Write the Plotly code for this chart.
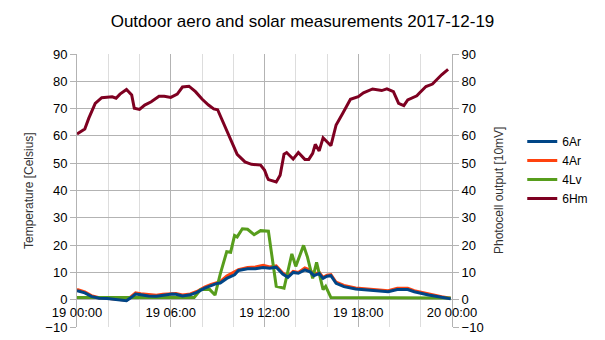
import plotly.graph_objects as go

DAY = "2017-12-19 "

# 6Hm (left axis, temperature)
hm_time = ["00:00","00:30","00:45","01:10","01:35","02:15","02:30","02:45","03:10","03:30",
           "03:40","04:00","04:20","04:45","05:15","05:35","06:00","06:25","06:45","07:10",
           "07:35","08:00","08:25","08:45","09:00","09:30","09:55","10:15","10:45","11:10",
           "11:45","12:00","12:10","12:15","12:45","13:00","13:15","13:25","13:50","14:10",
           "14:35","14:50","15:05","15:15","15:30","15:45","16:15","16:35","17:00","17:30",
           "18:00","18:20","18:55","19:30","19:50","20:15","20:35","20:55","21:10","21:45",
           "21:55","22:20","22:45","23:20","23:45"]
hm_val = [60.7,62.5,66.4,71.9,74.0,74.3,73.8,75.3,77.0,75.0,
          70.1,69.7,71.3,72.5,74.5,74.5,74.1,75.3,77.9,78.2,
          76.2,73.5,71.3,69.9,69.6,63.3,57.8,53.2,50.5,49.6,
          49.3,47.5,45.0,44.0,43.1,45.6,53.3,53.9,51.5,53.9,
          51.4,51.4,53.6,56.9,54.5,59.3,56.4,64.0,68.2,73.4,
          74.4,75.8,77.2,76.6,77.2,76.2,71.9,71.1,73.2,74.7,
          75.7,78.1,79.0,82.4,84.4]

# 6Ar and 4Ar share the same sample times
ar_time = ["00:00","00:30","00:55","01:25","01:55","02:20","02:45","03:10","03:25","03:45",
           "04:05","04:35","05:05","05:30","06:05","06:20","06:45","07:15","07:40","08:10",
           "08:35","08:55","09:10","09:35","10:05","10:20","10:55","11:25","11:55","12:20",
           "12:45","13:10","13:30","13:50","14:10","14:35","14:55","15:10","15:30","15:45",
           "16:00","16:15","16:35","17:05","17:50","18:40","19:30","19:55","20:30","21:10",
           "21:35","22:30","23:20","23:55"]
ar6_val = [3.3,2.5,1.2,0.5,0.4,0.1,0.0,-0.4,0.6,2.1,
           1.8,1.4,1.3,1.7,2.1,2.0,1.4,1.8,2.7,4.2,
           5.1,5.9,6.1,7.8,9.1,10.7,11.3,11.3,11.8,11.5,
           11.9,9.4,8.2,10.0,9.7,10.9,10.2,8.8,9.6,7.8,
           8.6,8.8,6.0,4.8,3.9,3.4,2.9,2.9,3.7,3.7,
           2.9,1.7,0.9,0.3]
ar4_val = [3.8,2.9,1.5,0.7,0.5,0.2,0.1,-0.2,0.9,2.5,
           2.2,1.8,1.6,2.0,2.4,2.3,1.7,2.1,3.0,4.6,
           5.6,6.3,6.6,8.7,10.2,11.0,11.8,12.0,12.6,12.0,
           12.4,9.8,8.6,10.4,10.0,11.6,10.9,9.3,10.0,8.2,
           9.0,9.2,6.4,5.2,4.3,3.8,3.3,3.3,4.2,4.2,
           3.3,2.0,1.1,0.5]

# 4Lv
lv_time = ["00:00","07:30","07:55","08:30","08:50","09:10","09:35","09:50","10:05","10:15",
           "10:35","10:55","11:20","11:45","12:15","12:45","13:15","13:45","14:00","14:30",
           "14:45","15:05","15:20","15:45","15:55","16:15","23:55"]
lv_val = [0.8,0.8,3.7,3.7,1.7,9.4,17.6,17.4,23.5,23.0,
          26.0,25.8,23.8,25.3,25.1,4.9,4.2,16.8,12.2,19.9,
          15.6,7.8,13.7,3.7,4.9,0.8,0.6]

x_ticks = ["2017-12-19 00:00","2017-12-19 06:00","2017-12-19 12:00","2017-12-19 18:00","2017-12-20 00:00"]
x_ticktext = ["19 00:00","19 06:00","19 12:00","19 18:00","20 00:00"]
y_ticks = list(range(-10, 91, 10))

C_6AR, C_4AR, C_4LV, C_6HM = "#004586", "#ff420e", "#579d1c", "#7e0021"
FONT = "Liberation Sans, Arial, sans-serif"

def t(lst):
    return [DAY + s for s in lst]

fig = go.Figure()
fig.add_trace(go.Scatter(x=t(ar_time), y=ar4_val, name="4Ar", mode="lines",
                         line=dict(color=C_4AR, width=3), legendrank=2))
fig.add_trace(go.Scatter(x=t(lv_time), y=lv_val, name="4Lv", mode="lines",
                         line=dict(color=C_4LV, width=3), legendrank=3))
fig.add_trace(go.Scatter(x=t(ar_time), y=ar6_val, name="6Ar", mode="lines",
                         line=dict(color=C_6AR, width=3), legendrank=1))
fig.add_trace(go.Scatter(x=t(hm_time), y=hm_val, name="6Hm", mode="lines",
                         line=dict(color=C_6HM, width=3), legendrank=4))
# dummy trace to show the right axis
fig.add_trace(go.Scatter(x=[x_ticks[0]], y=[None], yaxis="y2", showlegend=False,
                         hoverinfo="skip"))

fig.update_layout(
    width=605, height=340, autosize=False,
    margin=dict(l=77, r=149, t=54, b=13, pad=0),
    paper_bgcolor="white", plot_bgcolor="white",
    font=dict(family=FONT, size=13, color="#000000"),
    title=dict(text="Outdoor aero and solar measurements 2017-12-19",
               x=0.5, xref="container", xanchor="center",
               y=1 - 21/340, yref="container", yanchor="middle",
               font=dict(family=FONT, size=17, color="#000000")),
    xaxis=dict(type="date", range=[x_ticks[0], x_ticks[-1]],
               tickvals=x_ticks, ticktext=x_ticktext,
               showgrid=True, gridcolor="#b3b3b3", gridwidth=1,
               minor=dict(dtick=2*3600*1000, tick0=x_ticks[0], showgrid=True,
                          gridcolor="#dddddd", gridwidth=1),
               anchor="free", position=0.1, showline=False, zeroline=False,
               ticks="outside", ticklen=1, tickcolor="rgba(0,0,0,0)",
               tickfont=dict(size=13), automargin=False),
    yaxis=dict(range=[-10, 90], tickvals=y_ticks, showgrid=True, gridcolor="#b3b3b3",
               gridwidth=1, zeroline=False, showline=True, linecolor="#b3b3b3",
               ticks="outside", ticklen=6, tickcolor="#b3b3b3", tickfont=dict(size=13),
               automargin=False),
    yaxis2=dict(range=[-10, 90], tickvals=y_ticks, overlaying="y", side="right",
                showgrid=False, zeroline=False, showline=True, linecolor="#b3b3b3",
                ticks="outside", ticklen=6, tickcolor="#b3b3b3", tickfont=dict(size=13),
                automargin=False),
    legend=dict(x=(527-77)/379, y=(327-170)/273, xanchor="left", yanchor="middle",
                font=dict(size=12), bgcolor="rgba(0,0,0,0)", tracegroupgap=0),
    showlegend=True,
)

fig.add_annotation(text="Temperature [Celsius]", x=(28-77)/379, y=0.5, xref="paper",
                   yref="paper", textangle=-90, showarrow=False,
                   font=dict(size=12, color="#333333"), xanchor="center", yanchor="middle")
fig.add_annotation(text="Photocell output [10mV]", x=(503-77)/379, y=0.5, xref="paper",
                   yref="paper", textangle=-90, showarrow=False,
                   font=dict(size=12, color="#333333"), xanchor="center", yanchor="middle")

fig.write_html("out.html")
